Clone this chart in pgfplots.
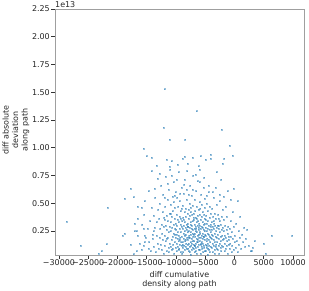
\documentclass[border=0pt]{standalone}
\usepackage{fontspec}
\setmainfont{DejaVu Sans}
\usepackage{pgfplots}
\usepackage{pgfplotstable}
\pgfplotsset{compat=1.18}
\definecolor{cblue}{HTML}{1F77B4}
\pgfplotstableread{
x y
-28690 0.334
-26240 0.12
-23210 0.05
-22700 0.07
-21800 0.133
-21680 0.46
-19060 0.21
-18840 0.23
-18840 0.54
-17740 0.635
-17690 0.13
-17230 0.556
-17180 0.043
-17120 0.25
-17060 0.32
-16670 0.25
-16670 0.07
-16550 0.36
-16550 0.47
-16550 0.21
-16200 0.14
-15860 0.46
-15590 0.27
-15420 0.21
-15420 0.15
-15470 0.99
-15080 0.925
-14150 0.91
-13300 0.84
-12050 1.18
-11880 1.529
-11650 0.89
-11080 0.83
-11030 1.07
-10740 0.88
-9780 0.85
-8920 0.90
-8510 0.92
-8460 1.07
-7950 0.86
-7140 0.91
-6410 1.33
-6190 0.835
-5730 0.925
-4990 0.89
-4070 0.905
-4020 0.935
-2140 1.166
-1970 0.86
-1790 0.905
-890 1.016
-260 0.93
-2650 0.30
6410 0.21
9830 0.21
4920 0.14
3500 0.16
3100 0.10
5380 0.05
2940 0.07
-15800 0.31
-15600 0.12
-15300 0.52
-15150 0.19
-15900 0.08
-15450 0.40
-14900 0.27
-14750 0.61
-14600 0.15
-14420 0.34
-14300 0.07
-14180 0.46
-14050 0.22
-14700 0.09
-13950 0.18
-13880 0.39
-13760 0.11
-13640 0.28
-13570 0.55
-13490 0.06
-13380 0.33
-13290 0.21
-13200 0.72
-13110 0.14
-13050 0.44
-13820 0.25
-12960 0.09
-12900 0.36
-12830 0.19
-12770 0.50
-12700 0.27
-12640 0.13
-12560 0.66
-12500 0.31
-12440 0.08
-12380 0.23
-12310 0.42
-12250 0.17
-12190 0.58
-12120 0.29
-12060 0.05
-12020 0.37
-11980 0.21
-11930 0.12
-11870 0.47
-11820 0.30
-11760 0.74
-11710 0.16
-11650 0.39
-11600 0.07
-11540 0.26
-11490 0.53
-11430 0.19
-11380 0.34
-11320 0.10
-11270 0.62
-11210 0.24
-11160 0.41
-11110 0.14
-11060 0.29
-11020 0.80
-11900 0.35
-11580 0.18
-11250 0.06
-10980 0.33
-10950 0.11
-10900 0.25
-10860 0.49
-10810 0.17
-10770 0.38
-10720 0.08
-10680 0.28
-10630 0.56
-10590 0.20
-10550 0.43
-10500 0.13
-10460 0.31
-10420 0.69
-10370 0.23
-10330 0.05
-10290 0.36
-10240 0.15
-10200 0.46
-10160 0.27
-10120 0.10
-10080 0.60
-10040 0.32
-10010 0.19
-10880 0.41
-10610 0.09
-10350 0.51
-10140 0.22
-9980 0.26
-9950 0.14
-9920 0.40
-9880 0.07
-9850 0.30
-9810 0.55
-9780 0.18
-9740 0.35
-9710 0.11
-9670 0.24
-9640 0.47
-9600 0.16
-9570 0.33
-9530 0.78
-9500 0.21
-9460 0.09
-9430 0.38
-9390 0.27
-9360 0.13
-9320 0.52
-9290 0.19
-9250 0.31
-9220 0.06
-9180 0.43
-9150 0.24
-9110 0.15
-9080 0.64
-9040 0.29
-9010 0.12
-9900 0.22
-9620 0.08
-9410 0.17
-9200 0.36
-9060 0.45
-8980 0.20
-8950 0.34
-8920 0.10
-8890 0.27
-8860 0.48
-8830 0.15
-8800 0.37
-8770 0.06
-8740 0.23
-8710 0.59
-8680 0.18
-8650 0.30
-8620 0.12
-8590 0.42
-8560 0.25
-8530 0.08
-8500 0.33
-8470 0.71
-8440 0.16
-8410 0.28
-8380 0.45
-8350 0.11
-8320 0.22
-8290 0.38
-8260 0.14
-8230 0.53
-8200 0.26
-8170 0.09
-8140 0.31
-8110 0.19
-8080 0.41
-8050 0.13
-8020 0.24
-8940 0.05
-8720 0.35
-8490 0.21
-8300 0.17
-8150 0.62
-8060 0.29
-8880 0.13
-7980 0.17
-7960 0.32
-7930 0.09
-7900 0.25
-7870 0.44
-7850 0.14
-7820 0.36
-7790 0.07
-7760 0.21
-7740 0.50
-7710 0.28
-7680 0.11
-7660 0.39
-7630 0.19
-7600 0.66
-7570 0.24
-7550 0.04
-7520 0.33
-7490 0.15
-7460 0.46
-7440 0.22
-7410 0.12
-7380 0.30
-7350 0.57
-7330 0.18
-7300 0.27
-7270 0.08
-7240 0.40
-7220 0.16
-7190 0.34
-7160 0.10
-7130 0.23
-7110 0.48
-7080 0.20
-7050 0.13
-7020 0.37
-7920 0.29
-7720 0.06
-7510 0.42
-7320 0.14
-7140 0.26
-7060 0.75
-7890 0.19
-7450 0.31
-6980 0.22
-6960 0.09
-6930 0.35
-6900 0.16
-6880 0.27
-6850 0.53
-6820 0.12
-6800 0.31
-6770 0.06
-6740 0.20
-6720 0.43
-6690 0.25
-6660 0.14
-6640 0.37
-6610 0.10
-6580 0.29
-6560 0.61
-6530 0.18
-6500 0.33
-6480 0.05
-6450 0.24
-6420 0.47
-6400 0.15
-6370 0.30
-6340 0.11
-6320 0.39
-6290 0.21
-6260 0.70
-6240 0.17
-6210 0.34
-6180 0.08
-6160 0.26
-6130 0.44
-6100 0.13
-6080 0.28
-6050 0.19
-6020 0.51
-6940 0.41
-6790 0.23
-6600 0.07
-6470 0.36
-6310 0.15
-6190 0.22
-6060 0.32
-6870 0.12
-6550 0.27
-5980 0.16
-5960 0.30
-5930 0.08
-5900 0.24
-5880 0.45
-5850 0.13
-5820 0.35
-5800 0.19
-5770 0.05
-5740 0.27
-5720 0.58
-5690 0.21
-5660 0.11
-5640 0.38
-5610 0.15
-5580 0.29
-5560 0.49
-5530 0.09
-5500 0.23
-5480 0.33
-5450 0.14
-5420 0.42
-5400 0.18
-5370 0.06
-5340 0.26
-5320 0.64
-5290 0.12
-5260 0.31
-5240 0.20
-5210 0.40
-5180 0.10
-5160 0.25
-5130 0.54
-5100 0.17
-5080 0.36
-5050 0.07
-5020 0.22
-5950 0.40
-5710 0.14
-5520 0.28
-5310 0.20
-5150 0.32
-5060 0.46
-5870 0.23
-4980 0.13
-4950 0.28
-4920 0.07
-4890 0.21
-4860 0.39
-4830 0.16
-4800 0.32
-4770 0.10
-4740 0.25
-4710 0.50
-4680 0.18
-4650 0.04
-4620 0.34
-4590 0.14
-4560 0.27
-4530 0.43
-4500 0.09
-4470 0.22
-4440 0.60
-4410 0.17
-4380 0.30
-4350 0.12
-4320 0.37
-4290 0.20
-4260 0.06
-4230 0.26
-4200 0.47
-4170 0.15
-4140 0.31
-4110 0.11
-4080 0.24
-4050 0.41
-4020 0.19
-4900 0.35
-4600 0.23
-4340 0.08
-4100 0.29
-4700 0.12
-3970 0.18
-3940 0.33
-3900 0.10
-3860 0.26
-3830 0.45
-3790 0.14
-3760 0.29
-3720 0.06
-3690 0.21
-3650 0.38
-3620 0.12
-3580 0.27
-3550 0.55
-3510 0.17
-3480 0.32
-3440 0.08
-3410 0.23
-3370 0.41
-3340 0.15
-3300 0.30
-3270 0.11
-3230 0.20
-3200 0.36
-3160 0.13
-3130 0.25
-3090 0.49
-3060 0.09
-3020 0.19
-3880 0.22
-3600 0.34
-3350 0.05
-3110 0.28
-2960 0.15
-2920 0.30
-2880 0.08
-2840 0.22
-2800 0.40
-2760 0.12
-2720 0.27
-2680 0.18
-2640 0.05
-2600 0.34
-2560 0.14
-2520 0.24
-2480 0.52
-2440 0.10
-2400 0.20
-2360 0.31
-2320 0.16
-2280 0.07
-2240 0.26
-2200 0.38
-2160 0.12
-2120 0.21
-2080 0.44
-2040 0.17
-2010 0.28
-2700 0.36
-1960 0.11
-1910 0.25
-1860 0.18
-1810 0.35
-1760 0.07
-1710 0.21
-1660 0.14
-1610 0.30
-1560 0.47
-1510 0.09
-1460 0.19
-1410 0.26
-1360 0.12
-1310 0.38
-1260 0.16
-1210 0.05
-1160 0.23
-1110 0.29
-1060 0.13
-1020 0.20
-960 0.17
-890 0.09
-820 0.27
-750 0.14
-680 0.34
-610 0.20
-540 0.06
-470 0.24
-400 0.12
-330 0.42
-260 0.18
-190 0.08
-120 0.29
-50 0.15
60 0.21
170 0.10
290 0.32
410 0.16
520 0.06
640 0.25
760 0.13
870 0.19
950 0.38
1120 0.09
1300 0.22
1480 0.15
1650 0.28
1800 0.11
1950 0.18
2150 0.26
2400 0.12
2750 0.07
-13700 0.63
-12850 0.77
-11400 0.68
-10700 0.75
-9850 0.71
-8600 0.67
-7800 0.58
-7100 0.62
-6650 0.76
-5900 0.69
-5200 0.73
-4450 0.66
-3800 0.60
-3200 0.64
-2550 0.58
-1850 0.56
-1200 0.61
-600 0.53
-8100 0.79
-4800 0.57
-2300 0.71
-9300 0.59
-10300 0.57
-11900 0.55
-14200 0.79
-6000 0.80
-3000 0.78
-200 0.63
500 0.52
}\pts
\begin{document}
\begin{tikzpicture}
\fontsize{8}{9.5}\selectfont
\begin{axis}[
  name=ax,
  at={(0,0)}, anchor=south west,
  scale only axis,
  width=249bp, height=246bp,
  xmin=-30680, xmax=11880,
  ymin=0.034, ymax=2.25,
  scaled x ticks=false, scaled y ticks=false,
  axis line style={gray!75, line width=0.8pt},
  tick align=outside,
  xtick pos=bottom, ytick pos=left,
  major tick length=3.5bp,
  every tick/.style={black!80, line width=0.8pt},
  xtick={-30000,-25000,-20000,-15000,-10000,-5000,0,5000,10000},
  xticklabels={−30000,−25000,−20000,−15000,−10000,−5000,0,5000,10000},
  ytick={0.25,0.5,0.75,1,1.25,1.5,1.75,2,2.25},
  yticklabels={0.25,0.50,0.75,1.00,1.25,1.50,1.75,2.00,2.25},
  tick label style={font=\fontsize{8}{9.5}\selectfont, text=black!85},
  xticklabel style={inner sep=1bp},
  yticklabel style={inner sep=1.5bp},
  xlabel={diff cumulative\\density along path},
  ylabel={diff absolute\\deviation\\along path},
  xlabel style={align=center, at={(axis description cs:0.5,-0.1)}, anchor=center, font=\fontsize{8}{9.5}\selectfont, text=black!85},
  ylabel style={align=center, at={(axis description cs:-0.157,0.508)}, anchor=center, font=\fontsize{8}{9.5}\selectfont, text=black!85},
  clip=false,
]
\addplot[color=cblue, only marks, mark=square*, mark size=0.5bp, mark options={draw=none, fill=cblue, opacity=0.45}] table[x=x,y=y] {\pts};
\end{axis}
\node[anchor=south west, inner sep=0pt, font=\fontsize{8}{9.5}\selectfont, text=black!85] at ([yshift=1.5bp]ax.north west) {1e13};
\pgfresetboundingbox
\path ([shift={(-55bp,-36bp)}]ax.south west) rectangle ([shift={(5bp,9bp)}]ax.north east);
\end{tikzpicture}
\end{document}
